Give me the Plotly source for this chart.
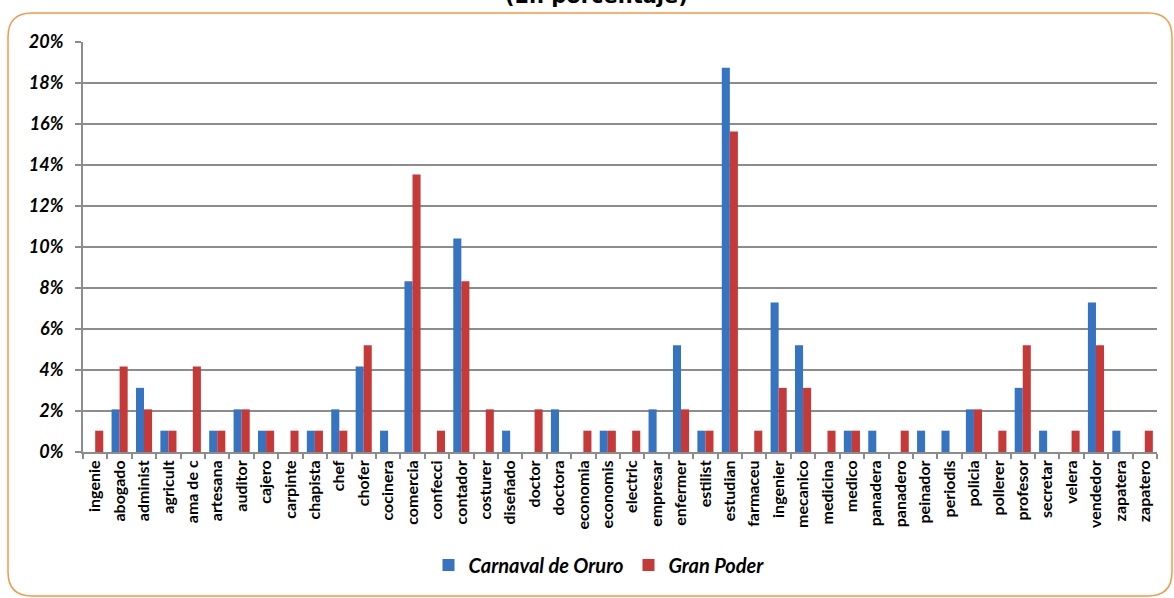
import plotly.graph_objects as go

# ----------------------------------------------------------------------------------------------------------------------
# Data (porcentajes)
# ----------------------------------------------------------------------------------------------------------------------
ocupaciones = ["ingenie", "abogado", "administ", "agricult", "ama de c", "artesana", "auditor", "cajero",
               "carpinte", "chapista", "chef", "chofer", "cocinera", "comercia", "confecci", "contador",
               "costurer", "diseñado", "doctor", "doctora", "economia", "economis", "electric", "empresar",
               "enfermer", "estilist", "estudian", "farmaceu", "ingenier", "mecanico", "medicina", "medico",
               "panadera", "panadero", "peinador", "periodis", "policia", "pollerer", "profesor", "secretar",
               "velera", "vendedor", "zapatera", "zapatero"]

carnaval_oruro = [0, 2.08, 3.13, 1.04, 0, 1.04, 2.08, 1.04,
                  0, 1.04, 2.08, 4.17, 1.04, 8.33, 0, 10.42,
                  0, 1.04, 0, 2.08, 0, 1.04, 0, 2.08,
                  5.21, 1.04, 18.75, 0, 7.29, 5.21, 0, 1.04,
                  1.04, 0, 1.04, 1.04, 2.08, 0, 3.13, 1.04,
                  0, 7.29, 1.04, 0]

gran_poder = [1.04, 4.17, 2.08, 1.04, 4.17, 1.04, 2.08, 1.04,
              1.04, 1.04, 1.04, 5.21, 0, 13.54, 1.04, 8.33,
              2.08, 0, 2.08, 0, 1.04, 1.04, 1.04, 0,
              2.08, 1.04, 15.63, 1.04, 3.13, 3.13, 1.04, 1.04,
              0, 1.04, 0, 0, 2.08, 1.04, 5.21, 0,
              1.04, 5.21, 0, 1.04]

y_ticks = [0, 2, 4, 6, 8, 10, 12, 14, 16, 18, 20]

# ----------------------------------------------------------------------------------------------------------------------
# Layout geometry (pixels)
# ----------------------------------------------------------------------------------------------------------------------
W, H = 1174, 598
ML, MR, MT, MB = 83, 17, 42, 146
PW, PH = W - ML - MR, H - MT - MB


def px_x(x):
    return (x - ML) / PW


def px_y(y):
    return (H - MB - y) / PH


def rounded_rect(x0, y0, x1, y1, r):
    pts = [
        ("M", [(x0 + r, y0)]),
        ("L", [(x1 - r, y0)]),
        ("Q", [(x1, y0), (x1, y0 + r)]),
        ("L", [(x1, y1 - r)]),
        ("Q", [(x1, y1), (x1 - r, y1)]),
        ("L", [(x0 + r, y1)]),
        ("Q", [(x0, y1), (x0, y1 - r)]),
        ("L", [(x0, y0 + r)]),
        ("Q", [(x0, y0), (x0 + r, y0)]),
    ]
    path = ""
    for cmd, coords in pts:
        path += cmd + " ".join("%.5f,%.5f" % (px_x(a), px_y(b)) for a, b in coords) + " "
    return path + "Z"


# ----------------------------------------------------------------------------------------------------------------------
# Figure
# ----------------------------------------------------------------------------------------------------------------------
fig = go.Figure()
fig.add_trace(go.Bar(x=ocupaciones, y=carnaval_oruro, name="Carnaval de Oruro",
                     marker_color="#3673C0", marker_line_width=0))
fig.add_trace(go.Bar(x=ocupaciones, y=gran_poder, name="Gran Poder",
                     marker_color="#C63939", marker_line_width=0))

fig.update_layout(
    width=W, height=H,
    margin=dict(l=ML, r=MR, t=MT, b=MB),
    paper_bgcolor="white", plot_bgcolor="white",
    barmode="group", bargap=0.34, bargroupgap=0,
    font=dict(family="Lato", color="black"),
    showlegend=True,
    legend=dict(orientation="h", x=px_x(599), y=px_y(565), xanchor="center", yanchor="middle",
                font=dict(size=20, family="Lato", style="italic", weight="bold"),
                itemwidth=30, tracegroupgap=0, bgcolor="rgba(0,0,0,0)"),
    shapes=[dict(type="path", xref="paper", yref="paper", path=rounded_rect(8, 13, 1172, 596, 24),
                 line=dict(color="#F79646", width=1.5), fillcolor="rgba(0,0,0,0)", layer="below")],
    annotations=[dict(text="<b>(En porcentaje)</b>", xref="paper", yref="paper", x=px_x(596), y=px_y(-4),
                      xanchor="center", yanchor="middle", showarrow=False,
                      font=dict(size=21, family="DejaVu Sans", color="black"))],
)

fig.update_xaxes(type="category", tickangle=-90, showgrid=False,
                 showline=True, linecolor="#8C8C8C", linewidth=2,
                 ticks="outside", tickson="boundaries", ticklen=5, tickwidth=2, tickcolor="#8C8C8C",
                 tickfont=dict(size=16, family="Lato", weight="bold", color="black"))

fig.update_yaxes(range=[0, 20], tickvals=y_ticks, ticktext=["%d%%" % v for v in y_ticks],
                 showgrid=True, gridcolor="#8C8C8C", gridwidth=2, zeroline=False,
                 showline=True, linecolor="#8C8C8C", linewidth=2,
                 ticks="outside", ticklen=6, tickwidth=2, tickcolor="#8C8C8C", ticklabelstandoff=8,
                 tickfont=dict(size=18, family="Lato", style="italic", weight="bold", color="black"))

fig.write_html("out.html", config={"displayModeBar": False},
               post_script="document.body.style.margin='0';")
